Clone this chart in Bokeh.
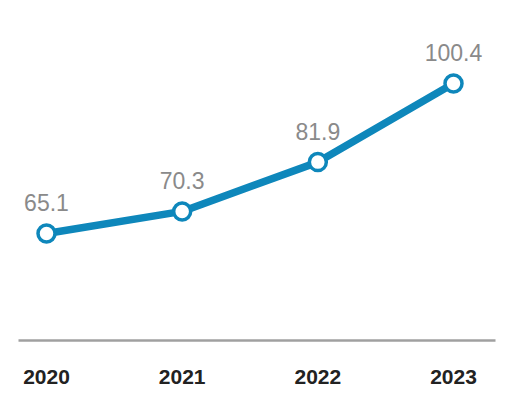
from bokeh.plotting import figure
from bokeh.models import Range1d, FixedTicker, ColumnDataSource
from bokeh.core.properties import value
from bokeh.embed import file_html
from bokeh.resources import INLINE

years = [2020, 2021, 2022, 2023]
values = [65.1, 70.3, 81.9, 100.4]
labels = ["65.1", "70.3", "81.9", "100.4"]

src = ColumnDataSource(dict(x=years, y=values, t=labels))

p = figure(width=513, height=388, output_backend="svg", toolbar_location=None,
           x_range=Range1d(2019.7936, 2023.3095), y_range=Range1d(39.92, 118.05),
           min_border_left=18, min_border_right=18, min_border_top=8, min_border_bottom=48)
p.outline_line_color = None
p.grid.visible = False
p.yaxis.visible = False
p.background_fill_color = "white"
p.border_fill_color = "white"

xa = p.xaxis[0]
xa.ticker = FixedTicker(ticks=years)
xa.axis_line_color = "#a0a0a0"
xa.axis_line_width = 2.5
xa.major_tick_line_color = None
xa.minor_tick_line_color = None
xa.major_label_text_font = "Liberation Sans"
xa.major_label_text_font_style = "bold"
xa.major_label_text_font_size = "21px"
xa.major_label_text_color = "#222222"
xa.major_label_standoff = 23

p.line("x", "y", source=src, line_color="#0e87bb", line_width=7.5)
p.scatter("x", "y", source=src, size=17, fill_color="white", line_color="#0e87bb", line_width=3.5)
p.text("x", "y", text="t", source=src, text_align="center", text_baseline="alphabetic",
       y_offset=-31, text_font=value("Liberation Sans"), text_font_size="23px",
       text_color="#8a8a8a")

open("out.html", "w").write(file_html(p, INLINE))
